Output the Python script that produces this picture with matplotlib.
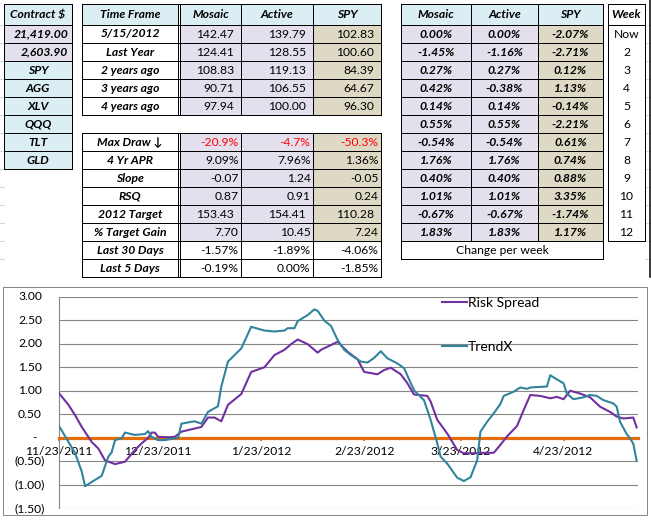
import matplotlib
matplotlib.use("Agg")
import matplotlib.pyplot as plt
import matplotlib.transforms as mtransforms
from matplotlib.patches import Rectangle
from matplotlib.lines import Line2D
import pandas as pd

plt.rcParams['font.family'] = ['Lato', 'DejaVu Sans']

# ---------------- data ----------------
contract_header = "Contract $"
contract_labels = ["21,419.00", "2,603.90", "SPY", "AGG", "XLV", "QQQ", "TLT", "GLD"]

col_names = ["Mosaic", "Active", "SPY"]

timeframe_header = "Time Frame"
timeframes = ["5/15/2012", "Last Year", "2 years ago", "3 years ago", "4 years ago"]
tf_mosaic = [142.47, 124.41, 108.83, 90.71, 97.94]
tf_active = [139.79, 128.55, 119.13, 106.55, 100.00]
tf_spy = [102.83, 100.60, 84.39, 64.67, 96.30]

stat_labels = ["Max Draw \u2193", "4 Yr APR", "Slope", "RSQ", "2012 Target",
               "% Target Gain", "Last 30 Days", "Last 5 Days"]
stat_mosaic = [-20.9, 9.09, -0.07, 0.87, 153.43, 7.70, -1.57, -0.19]
stat_active = [-4.7, 7.96, 1.24, 0.91, 154.41, 10.45, -1.89, 0.00]
stat_spy = [-50.3, 1.36, -0.05, 0.24, 110.28, 7.24, -4.06, -1.85]
stat_fmt = ["{:.1f}%", "{:.2f}%", "{:.2f}", "{:.2f}", "{:.2f}", "{:.2f}", "{:.2f}%", "{:.2f}%"]

week_header = "Week"
weeks = ["Now", "2", "3", "4", "5", "6", "7", "8", "9", "10", "11", "12"]
wk_mosaic = [0.00, -1.45, 0.27, 0.42, 0.14, 0.55, -0.54, 1.76, 0.40, 1.01, -0.67, 1.83]
wk_active = [0.00, -1.16, 0.27, -0.38, 0.14, 0.55, -0.54, 1.76, 0.40, 1.01, -0.67, 1.83]
wk_spy = [-2.07, -2.71, 0.12, 1.13, -0.14, -2.21, 0.61, 0.74, 0.88, 3.35, -1.74, 1.17]
week_footer = "Change per week"

rs_name = "Risk Spread"
rs_dates = ["2011-11-23", "2011-11-26", "2011-11-28", "2011-11-30", "2011-12-03", "2011-12-05",
            "2011-12-07", "2011-12-10", "2011-12-13", "2011-12-16", "2011-12-18", "2011-12-20",
            "2011-12-21", "2011-12-22", "2011-12-23", "2011-12-26", "2011-12-28", "2011-12-30",
            "2012-01-02", "2012-01-05", "2012-01-07", "2012-01-09", "2012-01-11", "2012-01-13",
            "2012-01-17", "2012-01-20", "2012-01-24", "2012-01-27", "2012-01-30", "2012-02-01",
            "2012-02-03", "2012-02-06", "2012-02-09", "2012-02-10", "2012-02-15", "2012-02-18",
            "2012-02-21", "2012-02-23", "2012-02-27", "2012-02-29", "2012-03-02", "2012-03-05",
            "2012-03-07", "2012-03-09", "2012-03-13", "2012-03-14", "2012-03-16", "2012-03-19",
            "2012-03-22", "2012-03-24", "2012-03-27", "2012-03-30", "2012-04-02", "2012-04-04",
            "2012-04-06", "2012-04-09", "2012-04-11", "2012-04-13", "2012-04-16", "2012-04-19",
            "2012-04-21", "2012-04-23", "2012-04-25", "2012-04-28", "2012-05-01", "2012-05-04",
            "2012-05-07", "2012-05-09", "2012-05-11", "2012-05-14", "2012-05-15"]
rs_values = [0.96, 0.70, 0.48, 0.23, -0.09, -0.23,
             -0.48, -0.56, -0.51, -0.26, -0.12, 0.00,
             0.11, 0.11, 0.02, 0.01, 0.02, 0.13,
             0.18, 0.23, 0.43, 0.43, 0.35, 0.70,
             0.93, 1.40, 1.50, 1.76, 1.87, 1.99,
             2.09, 1.99, 1.81, 1.87, 2.04, 1.83,
             1.67, 1.40, 1.35, 1.44, 1.49, 1.35,
             1.16, 0.92, 0.89, 0.77, 0.38, 0.09,
             -0.26, -0.33, -0.33, -0.32, -0.32, -0.15,
             0.03, 0.25, 0.59, 0.91, 0.89, 0.84,
             0.87, 0.82, 1.00, 0.94, 0.86, 0.66,
             0.55, 0.45, 0.41, 0.43, 0.22]

tx_name = "TrendX"
tx_dates = ["2011-11-23", "2011-11-26", "2011-11-28", "2011-11-30", "2011-12-01", "2011-12-03",
            "2011-12-06", "2011-12-08", "2011-12-09", "2011-12-10", "2011-12-12", "2011-12-13",
            "2011-12-16", "2011-12-19", "2011-12-20", "2011-12-21", "2011-12-23", "2011-12-25",
            "2011-12-29", "2011-12-30", "2012-01-02", "2012-01-03", "2012-01-05", "2012-01-07",
            "2012-01-10", "2012-01-11", "2012-01-13", "2012-01-17", "2012-01-20", "2012-01-24",
            "2012-01-27", "2012-01-30", "2012-01-31", "2012-02-02", "2012-02-03", "2012-02-06",
            "2012-02-08", "2012-02-09", "2012-02-11", "2012-02-13", "2012-02-15", "2012-02-17",
            "2012-02-19", "2012-02-22", "2012-02-24", "2012-02-26", "2012-02-28", "2012-03-01",
            "2012-03-04", "2012-03-06", "2012-03-09", "2012-03-12", "2012-03-14", "2012-03-16",
            "2012-03-17", "2012-03-19", "2012-03-22", "2012-03-24", "2012-03-26", "2012-03-28",
            "2012-03-29", "2012-03-31", "2012-04-02", "2012-04-04", "2012-04-05", "2012-04-08",
            "2012-04-10", "2012-04-12", "2012-04-13", "2012-04-18", "2012-04-19", "2012-04-21",
            "2012-04-23", "2012-04-24", "2012-04-26", "2012-04-29", "2012-05-01", "2012-05-03",
            "2012-05-05", "2012-05-08", "2012-05-09", "2012-05-10", "2012-05-12", "2012-05-13",
            "2012-05-14", "2012-05-15"]
tx_values = [0.27, -0.09, -0.33, -0.72, -1.03, -0.94,
             -0.81, -0.40, -0.31, -0.05, -0.01, 0.11,
             0.06, 0.08, 0.14, 0.02, -0.05, -0.05,
             0.00, 0.30, 0.34, 0.35, 0.30, 0.55,
             0.67, 1.09, 1.62, 1.90, 2.36, 2.28,
             2.26, 2.28, 2.33, 2.33, 2.48, 2.61,
             2.73, 2.70, 2.49, 2.38, 2.08, 1.87,
             1.76, 1.62, 1.60, 1.70, 1.84, 1.69,
             1.58, 1.48, 1.01, 0.80, 0.38, -0.12,
             -0.40, -0.55, -0.85, -0.92, -0.84, -0.48,
             0.13, 0.34, 0.52, 0.72, 0.89, 0.98,
             1.07, 1.04, 1.07, 1.09, 1.33, 1.24,
             1.16, 0.94, 0.82, 0.86, 0.91, 0.89,
             0.80, 0.73, 0.66, 0.34, 0.08, -0.01,
             -0.13, -0.49]

xtick_dates = ["2011-11-23", "2011-12-23", "2012-01-23", "2012-02-23", "2012-03-23", "2012-04-23"]
xtick_labels = ["11/23/2011", "12/23/2011", "1/23/2012", "2/23/2012", "3/23/2012", "4/23/2012"]
ytick_values = [3.0, 2.5, 2.0, 1.5, 1.0, 0.5, 0.0, -0.5, -1.0, -1.5]
x_start, x_end = "2011-11-23", "2012-05-15 12:00"

# ---------------- styles ----------------
W, H = 651, 520
BLUE = "#DAEEF3"
LAV = "#E4DFEC"
TAN = "#DDD9C4"
WHITE = "#FFFFFF"
PURPLE = "#7030A0"
TEAL = "#31849B"
ORANGE = "#E46C0A"
GRID = "#868686"
FS = 8.7
PX = 0.72  # points per pixel

fig = plt.figure(figsize=(W / 100, H / 100), dpi=100)
bg = fig.add_axes([0, 0, 1, 1])
bg.set_xlim(0, W)
bg.set_ylim(H, 0)
bg.axis("off")

TOP = 3.5
HDR = 21
ROW = 18


def row_y(i):
    """i = -1 header, i>=0 data rows"""
    if i < 0:
        return TOP, TOP + HDR
    y0 = TOP + HDR + ROW * i
    return y0, y0 + ROW


def fill(x0, x1, i, color):
    y0, y1 = row_y(i)
    bg.add_patch(Rectangle((x0, y0), x1 - x0, y1 - y0, facecolor=color, edgecolor="none", zorder=1))


def text(x0, x1, i, s, ha="center", pad=6, bold=False, italic=False, color="black", size=FS):
    y0, y1 = row_y(i)
    if ha == "center":
        x = (x0 + x1) / 2
    elif ha == "right":
        x = x1 - pad
    else:
        x = x0 + pad
    bg.text(x, (y0 + y1) / 2 + 0.5, s, ha=ha, va="center", fontsize=size,
            fontweight="bold" if bold else "normal",
            fontstyle="italic" if italic else "normal", color=color, zorder=3)


def hline(x0, x1, y, color="black", lw=1.0):
    bg.add_line(Line2D([x0, x1], [y, y], color=color, lw=lw * PX, zorder=2))


def vline(x, y0, y1, color="black", lw=1.0):
    bg.add_line(Line2D([x, x], [y0, y1], color=color, lw=lw * PX, zorder=2))


# faint spreadsheet gridlines at sides
for k in range(-1, 13):
    y = row_y(k)[1]
    hline(0, 4, y, color="#D0D7E5")
    hline(645, 650, y, color="#D0D7E5")
vline(650, 0, 277, lw=1.5)

# ---- Contract $ column ----
cx0, cx1 = 4, 72
fill(cx0, cx1, -1, BLUE)
text(cx0, cx1, -1, contract_header, bold=True, italic=True)
for i, lab in enumerate(contract_labels):
    fill(cx0, cx1, i, LAV if i < 2 else BLUE)
    text(cx0, cx1, i, lab, ha="right" if i < 2 else "center", pad=4, bold=True, italic=True)
for k in range(-1, len(contract_labels)):
    hline(cx0, cx1, row_y(k)[0])
hline(cx0, cx1, row_y(len(contract_labels) - 1)[1])
vline(cx0, TOP, row_y(len(contract_labels) - 1)[1])
vline(cx1, TOP, row_y(len(contract_labels) - 1)[1])

# ---- middle tables ----
mx = [82, 178, 180, 241, 313, 381]
val_cols = [(mx[2], mx[3]), (mx[3], mx[4]), (mx[4], mx[5])]
val_fill = [LAV, LAV, TAN]

# table 1
fill(mx[0], mx[1], -1, BLUE)
text(mx[0], mx[1], -1, timeframe_header, bold=True, italic=True)
for (a, b), name in zip(val_cols, col_names):
    fill(a, b, -1, BLUE)
    text(a, b, -1, name, bold=True, italic=True)
for i, tf in enumerate(timeframes):
    fill(mx[0], mx[1], i, WHITE)
    text(mx[0], mx[1], i, tf, bold=True, italic=True)
    for (a, b), fc, vals in zip(val_cols, val_fill, [tf_mosaic, tf_active, tf_spy]):
        fill(a, b, i, fc)
        text(a, b, i, "{:.2f}".format(vals[i]), ha="right", pad=7)
t1_bot = row_y(len(timeframes) - 1)[1]
for k in range(-1, len(timeframes)):
    hline(mx[0], mx[5], row_y(k)[0])
hline(mx[0], mx[5], t1_bot)
for x in mx:
    vline(x, TOP, t1_bot)

# table 2
start = len(timeframes) + 1
for j, lab in enumerate(stat_labels):
    i = start + j
    colored = j < 6
    fill(mx[0], mx[1], i, WHITE)
    text(mx[0], mx[1], i, lab, bold=True, italic=True)
    for (a, b), fc, vals in zip(val_cols, val_fill, [stat_mosaic, stat_active, stat_spy]):
        fill(a, b, i, fc if colored else WHITE)
        pad = 7 if lab == "2012 Target" else 2.5
        text(a, b, i, stat_fmt[j].format(vals[j]), ha="right", pad=pad,
             color="#FF0000" if j == 0 else "black")
t2_top = row_y(start)[0]
t2_bot = row_y(start + len(stat_labels) - 1)[1]
for k in range(len(stat_labels)):
    hline(mx[0], mx[5], row_y(start + k)[0])
hline(mx[0], mx[5], t2_bot)
for x in mx:
    vline(x, t2_top, t2_bot)

# ---- right table ----
rx = [401, 471, 538, 603]
r_cols = [(rx[0], rx[1]), (rx[1], rx[2]), (rx[2], rx[3])]
for (a, b), name in zip(r_cols, col_names):
    fill(a, b, -1, BLUE)
    text(a, b, -1, name, bold=True, italic=True)
for i in range(len(weeks)):
    for (a, b), fc, vals in zip(r_cols, val_fill, [wk_mosaic, wk_active, wk_spy]):
        fill(a, b, i, fc)
        text(a, b, i, "{:.2f}%".format(vals[i]), bold=True, italic=True)
nrow = len(weeks)
fill(rx[0], rx[3], nrow, WHITE)
text(rx[0], rx[3], nrow, week_footer)
for k in range(-1, nrow + 1):
    hline(rx[0], rx[3], row_y(k)[0])
hline(rx[0], rx[3], row_y(nrow)[1])
for x in rx[1:3]:
    vline(x, TOP, row_y(nrow - 1)[1])
vline(rx[0], TOP, row_y(nrow)[1])
vline(rx[3], TOP, row_y(nrow)[1])

# ---- week table ----
wx0, wx1 = 608, 645
fill(wx0, wx1, -1, WHITE)
text(wx0, wx1, -1, week_header, bold=True, italic=True)
for i, w in enumerate(weeks):
    fill(wx0, wx1, i, WHITE)
    text(wx0, wx1, i, w)
wbot = row_y(nrow - 1)[1]
hline(wx0, wx1, TOP)
hline(wx0, wx1, row_y(-1)[1])
hline(wx0, wx1, wbot)
vline(wx0, TOP, wbot)
vline(wx1, TOP, wbot)

# ---------------- chart ----------------
bg.add_patch(Rectangle((3, 287), 644, 228, facecolor="white", edgecolor=GRID, lw=1.0 * PX, zorder=1))

L, R, T, B = 58.5, 638.3, 296.7, 508.3
ax = fig.add_axes([L / W, (H - B) / H, (R - L) / W, (B - T) / H])
ax.patch.set_alpha(0)

ax.plot(pd.to_datetime(rs_dates), rs_values, color=PURPLE, lw=1.5, zorder=3, label=rs_name,
        solid_joinstyle="round")
ax.plot(pd.to_datetime(tx_dates), tx_values, color=TEAL, lw=1.5, zorder=3, label=tx_name,
        solid_joinstyle="round")

ax.set_xlim(pd.Timestamp(x_start), pd.Timestamp(x_end))
ax.set_ylim(min(ytick_values), max(ytick_values))
ax.set_yticks(ytick_values)
ax.tick_params(axis="y", length=0, labelleft=False)
ax.grid(axis="y", color=GRID, lw=0.8)
ax.grid(axis="x", visible=False)

for s in ["top", "right"]:
    ax.spines[s].set_visible(False)
ax.spines["left"].set_color(GRID)
ax.spines["left"].set_linewidth(0.8)
ax.spines["bottom"].set_position(("data", 0))
ax.spines["bottom"].set_color(ORANGE)
ax.spines["bottom"].set_linewidth(2.3)
ax.spines["bottom"].set_zorder(2.5)

ax.set_xticks(pd.to_datetime(xtick_dates))
ax.set_xticklabels(xtick_labels)
ax.tick_params(axis="x", direction="out", length=2.5, width=1.2, color=ORANGE,
               labelcolor="black", labelsize=FS, pad=3.5)

# accounting-style y labels
for v in ytick_values:
    if v > 0:
        lab, off = "{:.2f}".format(v), -16.5
    elif v == 0:
        lab, off = "-", -22
    else:
        lab, off = "({:.2f})".format(abs(v)), -13.5
    tr = mtransforms.offset_copy(ax.get_yaxis_transform(), fig=fig, x=off, y=0, units="dots")
    ax.text(0, v, lab, transform=tr, ha="right", va="center", fontsize=FS, clip_on=False)

fig.legend(handles=ax.get_lines(), loc="upper left",
           bbox_to_anchor=(441.5 / W, 1 - 297 / H), frameon=False, fontsize=10,
           handlelength=1.8, handletextpad=0.1, labelspacing=2.3, borderpad=0, borderaxespad=0)

fig.savefig("out.png", dpi=100)
